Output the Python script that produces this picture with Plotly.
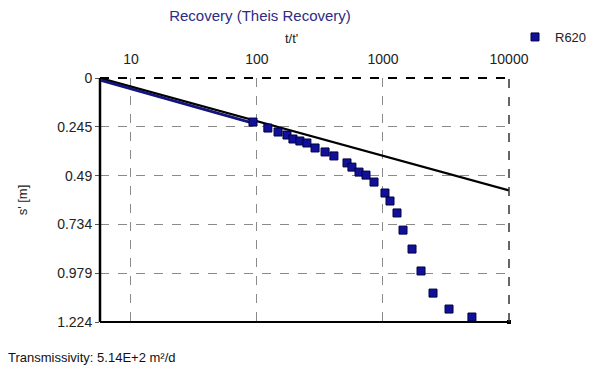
import math

import plotly.graph_objects as go

# R620 recovery data (t/t', residual drawdown s' in m)
R620_TT = [93, 122, 147, 173, 193, 219, 249, 289, 347, 408, 518, 567, 645, 733, 849,
           1037, 1137, 1292, 1442, 1700, 2004, 2495, 3342, 5080]
R620_S = [0.221, 0.251, 0.271, 0.286, 0.306, 0.316, 0.326, 0.351, 0.371, 0.391, 0.426,
          0.447, 0.472, 0.487, 0.522, 0.577, 0.617, 0.677, 0.763, 0.858, 0.968, 1.079,
          1.159, 1.199]

# early, densely packed part of the record (reads as a thin band)
EARLY_TT = [5.8, 10, 20, 40, 90]
EARLY_S = [0.012, 0.054, 0.107, 0.160, 0.224]

# fitted Theis recovery straight line
FIT_TT = [5.68, 10000]
FIT_S = [0.0, 0.564]

X_TICKS = [10, 100, 1000, 10000]
Y_TICKS = [0, 0.245, 0.49, 0.734, 0.979, 1.224]
Y_LABELS = ["0", "0.245", "0.49", "0.734", "0.979", "1.224"]

FONT = "Liberation Sans, Arial, sans-serif"
MARK = "#10109a"

# plot area in pixels: left 100, right 509, top 78, bottom 322
PW, PH = 409, 244
W, H = 597, 373

fig = go.Figure()
fig.add_trace(go.Scatter(
  x=FIT_TT, y=FIT_S, mode="lines", showlegend=False,
  line=dict(color="black", width=2.2),
))
fig.add_trace(go.Scatter(
  x=EARLY_TT, y=EARLY_S, mode="lines", showlegend=False,
  line=dict(color="#14147a", width=3),
))
fig.add_trace(go.Scatter(
  x=R620_TT, y=R620_S, mode="markers", name="R620",
  marker=dict(symbol="square", size=8, color=MARK, line=dict(color="#000040", width=1)),
))
fig.add_trace(go.Scatter(
  x=[10000], y=[1.224], mode="markers", showlegend=False, cliponaxis=False,
  marker=dict(symbol="square", size=4, color="black"),
))

grid = dict(showgrid=True, gridcolor="#8a8a8a", griddash="dash", gridwidth=1,
            zeroline=False, automargin=False)

fig.update_layout(
  width=W,
  height=H,
  margin=dict(l=100, r=88, t=78, b=51, autoexpand=False),
  paper_bgcolor="white",
  plot_bgcolor="white",
  font=dict(family=FONT, size=14, color="#222"),
  title=dict(
    text="Recovery (Theis Recovery)",
    x=260 / W, xanchor="center", yref="container", y=1 - 16 / H, yanchor="middle",
    pad=dict(t=0, b=0),
    font=dict(family=FONT, size=15, color="#2c2c84"),
  ),
  xaxis=dict(
    type="log",
    side="top",
    range=[math.log10(5.68), 4],
    tickvals=X_TICKS,
    ticktext=[str(v) for v in X_TICKS],
    ticks="",
    ticklabelstandoff=10,
    showline=False,
    **grid,
  ),
  yaxis=dict(
    range=[1.224, 0],
    tickvals=Y_TICKS,
    ticktext=Y_LABELS,
    ticks="outside",
    ticklen=4,
    tickcolor="#555",
    showline=False,
    title=dict(text="s' [m]", standoff=26, font=dict(size=13)),
    **grid,
  ),
  legend=dict(
    xref="container", yref="container",
    x=515 / W, y=1 - 22 / H, xanchor="left", yanchor="top",
    bgcolor="rgba(0,0,0,0)", font=dict(size=13), itemwidth=30,
  ),
  shapes=[
    dict(type="line", xref="paper", yref="paper", x0=0, x1=0, y0=0, y1=1,
         line=dict(color="black", width=2.5)),
    dict(type="line", xref="paper", yref="paper", x0=0, x1=1, y0=0, y1=0,
         line=dict(color="black", width=2)),
    dict(type="line", xref="paper", yref="paper", x0=0, x1=1, y0=1, y1=1,
         line=dict(color="black", width=2, dash="dash")),
    dict(type="line", xref="paper", yref="paper", x0=1, x1=1, y0=0, y1=1,
         line=dict(color="#333", width=1.5, dash="dash")),
  ],
  annotations=[
    dict(text="t/t'", xref="paper", yref="paper",
         x=(291 - 100) / PW, y=1 + (78 - 38) / PH, xanchor="center", yanchor="middle",
         showarrow=False, font=dict(family=FONT, size=13, color="#222")),
    dict(text="Transmissivity: 5.14E+2 m²/d", xref="paper", yref="paper",
         x=-94 / PW, y=-(357 - 322) / PH, xanchor="left", yanchor="middle",
         showarrow=False, font=dict(family=FONT, size=13, color="#111")),
  ],
)

fig.write_html(
  "out.html",
  config={"displayModeBar": False},
  post_script="document.body.style.margin='0';",
)
